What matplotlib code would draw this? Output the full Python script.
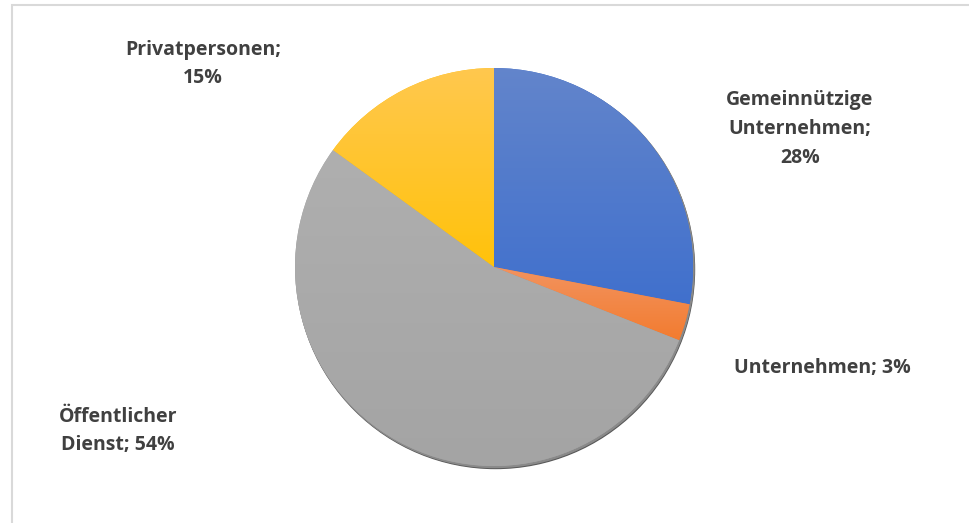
import matplotlib
matplotlib.use('Agg')
import matplotlib.pyplot as plt
import numpy as np
from matplotlib.colors import LinearSegmentedColormap
from matplotlib.patches import Circle, Rectangle

plt.rcParams['font.family'] = ['Open Sans', 'DejaVu Sans']

# Data
categories = ['Gemeinnützige Unternehmen', 'Unternehmen', 'Öffentlicher Dienst', 'Privatpersonen']
shares = [28, 3, 54, 15]
labels = ['Gemeinnützige\nUnternehmen;\n28%', 'Unternehmen; 3%',
          'Öffentlicher\nDienst; 54%', 'Privatpersonen;\n15%']

# light top -> base bottom per slice
grad_colors = [('#6385CB', '#4070CD'), ('#F29461', '#F37B2E'),
               ('#AFAFAF', '#A4A4A4'), ('#FFC84F', '#FFC20A')]

W, H = 969, 523
fig = plt.figure(figsize=(W / 100, H / 100), dpi=100)
ax = fig.add_axes([0, 0, 1, 1])
ax.set_xlim(0, W)
ax.set_ylim(0, H)
ax.set_aspect('equal')
ax.axis('off')

# chart frame (top and left edges visible)
ax.add_patch(Rectangle((12.5, -20), W + 50, H - 5 + 20, fill=False,
                       edgecolor='#D9D9D9', linewidth=1.5, zorder=0))

cx, cy, r = 494, H - 267, 199

# shadow
ax.add_patch(Circle((cx + 1.5, cy - 2.5), r, color='#5A5A5A', zorder=1))
ax.add_patch(Circle((cx + 1.0, cy - 1.5), r, color='#8A8A8A', zorder=1.5))

wedges, _ = ax.pie(shares, startangle=90, counterclock=False, center=(cx, cy),
                   radius=r, colors=[c[1] for c in grad_colors],
                   wedgeprops=dict(linewidth=0), frame=True)
ax.set_xlim(0, W)
ax.set_ylim(0, H)
ax.axis('off')

for w, (c_top, c_bot) in zip(wedges, grad_colors):
    w.set_zorder(2)
    th = np.radians(np.linspace(w.theta1, w.theta2, 200))
    ys = np.concatenate([cy + r * np.sin(th), [cy]])
    xs = np.concatenate([cx + r * np.cos(th), [cx]])
    cmap = LinearSegmentedColormap.from_list('g', [c_bot, c_top])
    grad = np.linspace(0, 1, 256).reshape(-1, 1)
    im = ax.imshow(grad, cmap=cmap, origin='lower', aspect='auto',
                   extent=(xs.min() - 2, xs.max() + 2, ys.min() - 2, ys.max() + 2),
                   zorder=3)
    im.set_clip_path(w)
ax.set_xlim(0, W)
ax.set_ylim(0, H)

txt = dict(fontsize=14, fontweight='bold', color='#404040', ha='center',
           va='center', linespacing=1.58)
ax.text(800, H - 129, labels[0], **txt)
ax.text(822, H - 368, labels[1], **txt)
ax.text(118, H - 431, labels[2], **txt)
ax.text(203, H - 64, labels[3], **txt)

fig.savefig('out.png', dpi=100, facecolor='white')
